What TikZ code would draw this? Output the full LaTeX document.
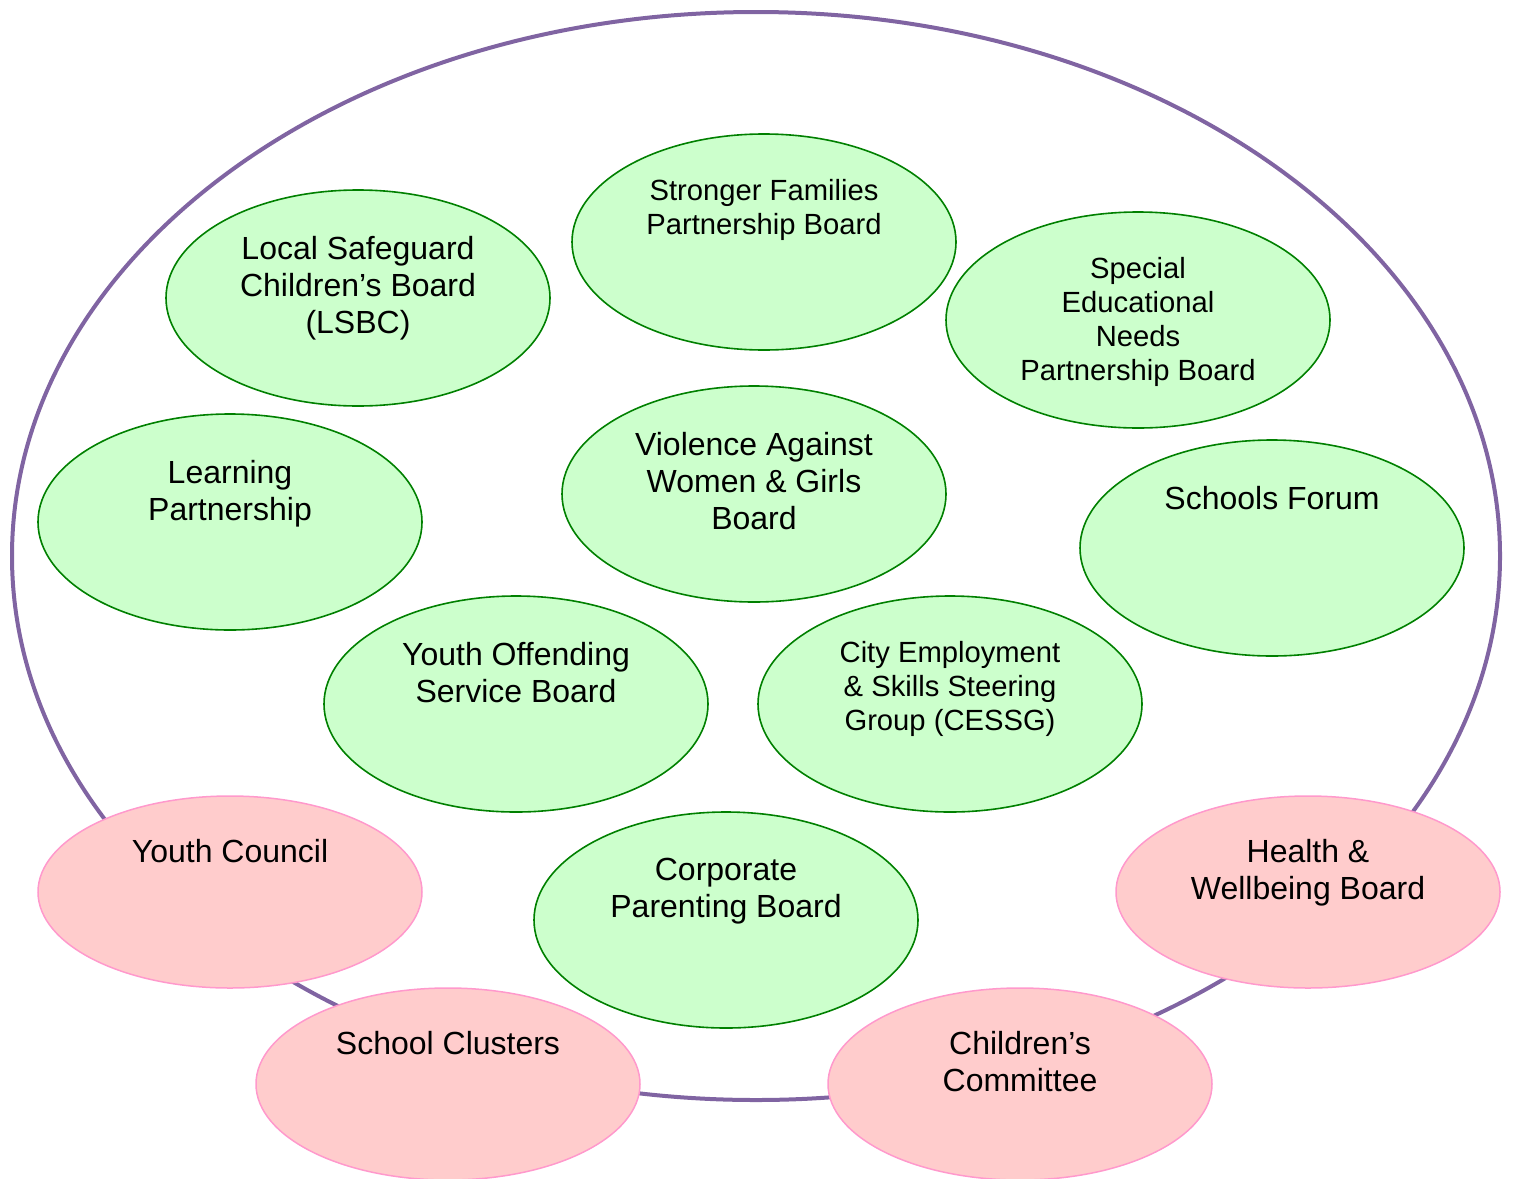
\documentclass[tikz,border=0pt]{standalone}
\usepackage{fontspec}
\setmainfont{Liberation Sans}
\usetikzlibrary{shapes.geometric}
\definecolor{ringpurple}{HTML}{8064A2}
\definecolor{gfill}{HTML}{CCFFCC}
\definecolor{gline}{HTML}{008000}
\definecolor{pfill}{HTML}{FFCCCC}
\definecolor{pline}{HTML}{FF99CC}
\begin{document}
\begin{tikzpicture}[x=0.5pt,y=-0.5pt,
  ring/.style={draw=ringpurple, line width=2pt, ellipse, inner sep=0pt, minimum width=744pt, minimum height=544pt},
  greenbox/.style={draw=gline, fill=gfill, line width=0.8pt, ellipse, inner sep=0pt, minimum width=192pt, minimum height=108pt},
  pinkbox/.style={draw=pline, fill=pfill, line width=0.75pt, ellipse, inner sep=0pt, minimum width=192pt, minimum height=96pt},
  bigtxt/.style={inner sep=0pt, anchor=north, align=center, font=\fontsize{16}{18.5}\selectfont},
  smalltxt/.style={inner sep=0pt, anchor=north, align=center, font=\fontsize{14.6}{17}\selectfont}]
\useasboundingbox (0,0) rectangle (1513,1178);
\node[ring] (ring) at (756,556) {};
% green ellipses
\node[greenbox] (lsbc) at (358,298) {};
\node[bigtxt] (lsbct) at ([yshift=-23.25pt]lsbc.north) {Local Safeguard\\Children’s Board\\(LSBC)};
\node[greenbox] (sfp) at (764,242) {};
\node[smalltxt] (sfpt) at ([yshift=-22.8pt]sfp.north) {Stronger Families\\Partnership Board};
\node[greenbox] (sen) at (1138,320) {};
\node[smalltxt] (sent) at ([yshift=-22.8pt]sen.north) {Special\\Educational\\Needs\\Partnership Board};
\node[greenbox] (lp) at (230,522) {};
\node[bigtxt] (lpt) at ([yshift=-23.25pt]lp.north) {Learning\\Partnership};
\node[greenbox] (vaw) at (754,494) {};
\node[bigtxt] (vawt) at ([yshift=-23.25pt]vaw.north) {Violence Against\\Women \& Girls\\Board};
\node[greenbox] (sf) at (1272,548) {};
\node[bigtxt] (sft) at ([yshift=-23.25pt]sf.north) {Schools Forum};
\node[greenbox] (yos) at (516,704) {};
\node[bigtxt] (yost) at ([yshift=-23.25pt]yos.north) {Youth Offending\\Service Board};
\node[greenbox] (cess) at (950,704) {};
\node[smalltxt] (cesst) at ([yshift=-22.8pt]cess.north) {City Employment\\\& Skills Steering\\Group (CESSG)};
\node[greenbox] (cpb) at (726,920) {};
\node[bigtxt] (cpbt) at ([yshift=-23.25pt]cpb.north) {Corporate\\Parenting Board};
% pink ellipses
\node[pinkbox] (yc) at (230,892) {};
\node[bigtxt] (yct) at ([yshift=-21.75pt]yc.north) {Youth Council};
\node[pinkbox] (sc) at (448,1084) {};
\node[bigtxt] (sct) at ([yshift=-21.75pt]sc.north) {School Clusters};
\node[pinkbox] (cc) at (1020,1084) {};
\node[bigtxt] (cct) at ([yshift=-21.75pt]cc.north) {Children’s\\Committee};
\node[pinkbox] (hwb) at (1308,892) {};
\node[bigtxt] (hwbt) at ([yshift=-21.75pt]hwb.north) {Health \&\\Wellbeing Board};
\end{tikzpicture}
\end{document}
